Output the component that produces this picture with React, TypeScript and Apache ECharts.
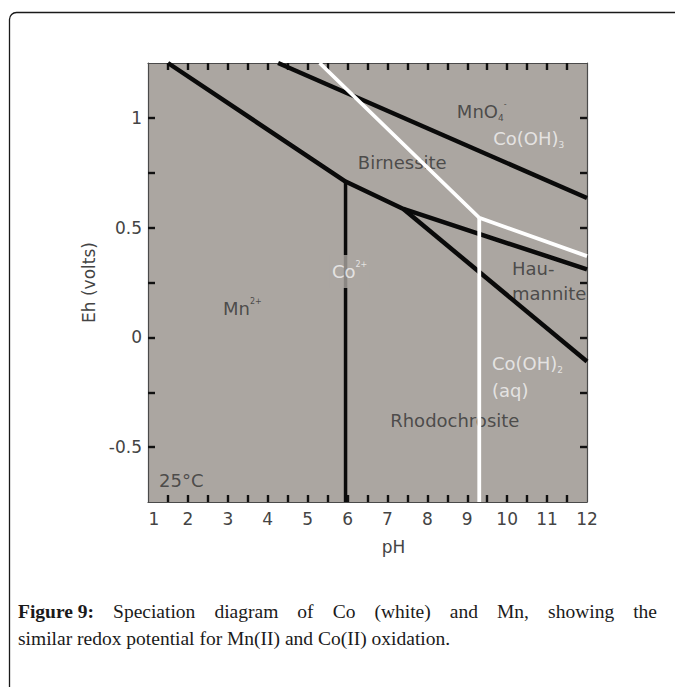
import React, { useEffect, useRef } from 'react';
import * as echarts from 'echarts';

// ---- axes ----
const PH_MIN = 1;
const PH_MAX = 12;
const EH_MIN = -0.75;
const EH_MAX = 1.25;
const phLabels = [1, 2, 3, 4, 5, 6, 7, 8, 9, 10, 11, 12];
const phTicks = [1.5, 2, 2.5, 3, 3.5, 4, 4.5, 5, 5.5, 6, 6.5, 7, 7.5, 8, 8.5, 9, 9.5, 10, 10.5, 11, 11.5];
const ehLabels = [-0.5, 0, 0.5, 1];
const ehTicks = [-0.5, -0.25, 0, 0.25, 0.5, 0.75, 1];

// ---- Mn boundaries (black) [pH, Eh] ----
const mnO4Boundary = [[4.26, 1.25], [12, 0.635]];
const mn2Boundary = [[1.5, 1.25], [5.95, 0.71], [7.4, 0.585], [12, 0.31]];
const rhodoBoundary = [[7.4, 0.585], [12, -0.11]];
const mnVertical = [[5.95, 0.71], [5.95, -0.75]];

// ---- Co boundaries (white) [pH, Eh] ----
const coUpper = [[5.3, 1.25], [9.3, 0.545], [12, 0.37]];
const coVertical = [[9.3, 0.545], [9.3, -0.75]];

// ---- region labels ----
const darkLabelText = ['MnO{sub|4}{sup|-}', 'Birnessite', 'Hau-', 'mannite', 'Rhodochrosite', 'Mn{sup|2+}', '25°C'];
const darkLabelPos = [[8.74, 1.03], [6.26, 0.795], [10.12, 0.314], [10.12, 0.2], [7.07, -0.377], [2.88, 0.132], [1.28, -0.65]];
const whiteLabelText = ['Co(OH){sub|3}', 'Co(OH){sub|2}', '(aq)'];
const whiteLabelPos = [[9.65, 0.905], [9.62, -0.118], [9.62, -0.24]];
const coIonLabelText = ['Co{sup|2+}'];
const coIonLabelPos = [[5.56, 0.3]];

// ---- caption ----
const captionLine1 = ['Figure 9:', 'Speciation', 'diagram', 'of', 'Co', '(white)', 'and', 'Mn,', 'showing', 'the'];
const captionLine2 = 'similar redox potential for Mn(II) and Co(II) oxidation.';

const PLOT_BG = '#aba6a1';
const FONT = 'DejaVu Sans';
const CAP_FONT = 'Liberation Serif';

const richStyles = (color: string) => ({
  sub: { fontSize: 9, color, verticalAlign: 'bottom', lineHeight: 10, fontFamily: FONT },
  sup: { fontSize: 8, color, verticalAlign: 'top', lineHeight: 9, fontFamily: FONT },
});

function labelSeries(name: string, texts: string[], pos: number[][], color: string, z: number, extra: any = {}) {
  return {
    name,
    type: 'scatter',
    z,
    symbolSize: 0.1,
    itemStyle: { color: 'rgba(0,0,0,0)' },
    silent: true,
    data: pos.map((p, i) => ({ value: p, label: { formatter: texts[i] } })),
    label: {
      show: true,
      position: [0, 0],
      align: 'left',
      verticalAlign: 'middle',
      fontFamily: FONT,
      fontSize: 18,
      lineHeight: 22,
      color,
      rich: richStyles(color),
      ...extra,
    },
  };
}

function lineSeries(name: string, data: number[][], color: string, width: number) {
  return {
    name,
    type: 'line',
    z: 3,
    data,
    showSymbol: false,
    symbol: 'none',
    silent: true,
    lineStyle: { color, width, join: 'round', cap: 'butt' },
  };
}

export default function App() {
  const ref = useRef<HTMLDivElement>(null);
  useEffect(() => {
    if (!ref.current) return;
    const chart = echarts.init(ref.current, null, { renderer: 'svg' });

    // justified first caption line
    const ctx = document.createElement('canvas').getContext('2d')!;
    const capSize = 19.5;
    const widths = captionLine1.map((w, i) => {
      ctx.font = `${i === 0 ? 'bold ' : ''}${capSize}px "${CAP_FONT}"`;
      return ctx.measureText(w).width;
    });
    const left = 18;
    const right = 657;
    const gap = (right - left - widths.reduce((a, b) => a + b, 0)) / (widths.length - 1);
    let cx = left;
    const line1Els = captionLine1.map((w, i) => {
      const el = {
        type: 'text',
        x: cx,
        y: 611,
        style: {
          text: w,
          fontFamily: CAP_FONT,
          fontSize: capSize,
          fontWeight: i === 0 ? 'bold' : 'normal',
          fill: '#1a1a1a',
          textVerticalAlign: 'middle',
          verticalAlign: 'middle',
        },
      };
      cx += widths[i] + gap;
      return el;
    });

    const axisLineStyle = { color: '#4a4a4a', width: 1.2 };
    const tickStyle = { color: '#111', width: 2.4 };
    const labelColor = '#444';

    chart.setOption({
      animation: false,
      backgroundColor: '#ffffff',
      grid: {
        left: 148,
        right: 88,
        top: 63,
        bottom: 185,
        show: true,
        backgroundColor: PLOT_BG,
        borderWidth: 0,
      },
      xAxis: [
        {
          type: 'value',
          min: PH_MIN,
          max: PH_MAX,
          position: 'bottom',
          name: 'pH',
          nameLocation: 'middle',
          nameGap: 36,
          nameTextStyle: { fontFamily: FONT, fontSize: 17, color: labelColor, padding: [0, 0, 0, 52] },
          axisLine: { show: true, onZero: false, lineStyle: axisLineStyle },
          axisTick: { show: true, inside: true, length: 7, lineStyle: tickStyle, customValues: phTicks },
          axisLabel: {
            show: true,
            customValues: phLabels,
            margin: 8,
            fontFamily: FONT,
            fontSize: 17,
            color: labelColor,
            formatter: (v: number) => (v === 1 ? '{first|1}' : String(v)),
            rich: { first: { padding: [0, 0, 0, 12], fontFamily: FONT, fontSize: 17, color: labelColor } },
          },
          splitLine: { show: false },
        },
        {
          type: 'value',
          min: PH_MIN,
          max: PH_MAX,
          position: 'top',
          axisLine: { show: true, onZero: false, lineStyle: axisLineStyle },
          axisTick: { show: true, inside: true, length: 7, lineStyle: tickStyle, customValues: phTicks },
          axisLabel: { show: false },
          splitLine: { show: false },
        },
      ],
      yAxis: [
        {
          type: 'value',
          min: EH_MIN,
          max: EH_MAX,
          position: 'left',
          name: 'Eh (volts)',
          nameLocation: 'middle',
          nameRotate: 90,
          nameGap: 44,
          nameTextStyle: { fontFamily: FONT, fontSize: 17, color: labelColor },
          axisLine: { show: true, onZero: false, lineStyle: axisLineStyle },
          axisTick: { show: true, inside: true, length: 7, lineStyle: tickStyle, customValues: ehTicks },
          axisLabel: {
            show: true,
            customValues: ehLabels,
            margin: 6,
            fontFamily: FONT,
            fontSize: 17,
            color: labelColor,
            formatter: (v: number) => String(v),
          },
          splitLine: { show: false },
        },
        {
          type: 'value',
          min: EH_MIN,
          max: EH_MAX,
          position: 'right',
          axisLine: { show: true, onZero: false, lineStyle: axisLineStyle },
          axisTick: { show: true, inside: true, length: 7, lineStyle: tickStyle, customValues: ehTicks },
          axisLabel: { show: false },
          splitLine: { show: false },
        },
      ],
      series: [
        labelSeries('regionsDark', darkLabelText, darkLabelPos, '#333333', 1),
        labelSeries('regionsWhite', whiteLabelText, whiteLabelPos, '#f4f4f4', 1),
        lineSeries('MnO4 boundary', mnO4Boundary, '#0a0a0a', 4.5),
        lineSeries('Mn2+ boundary', mn2Boundary, '#0a0a0a', 4.5),
        lineSeries('Rhodochrosite boundary', rhodoBoundary, '#0a0a0a', 4.5),
        lineSeries('Mn vertical', mnVertical, '#0a0a0a', 3.5),
        lineSeries('Co upper', coUpper, '#ffffff', 3.8),
        lineSeries('Co vertical', coVertical, '#ffffff', 3.8),
        labelSeries('coIon', coIonLabelText, coIonLabelPos, '#f4f4f4', 10, {
          backgroundColor: PLOT_BG,
          padding: [6, 2, 5, 2],
        }),
      ],
      graphic: [
        {
          type: 'rect',
          z: 100,
          silent: true,
          shape: { x: 9.5, y: 12.5, width: 700, height: 700, r: 7 },
          style: { fill: 'none', stroke: '#1a1a1a', lineWidth: 1.3 },
        },
        ...line1Els,
        {
          type: 'text',
          x: left,
          y: 638,
          style: {
            text: captionLine2,
            fontFamily: CAP_FONT,
            fontSize: capSize,
            fill: '#1a1a1a',
            textVerticalAlign: 'middle',
            verticalAlign: 'middle',
          },
        },
      ],
    });
    return () => chart.dispose();
  }, []);
  return <div ref={ref} style={{ position: 'absolute', left: 0, top: 0, width: 675, height: 687 }} />;
}
